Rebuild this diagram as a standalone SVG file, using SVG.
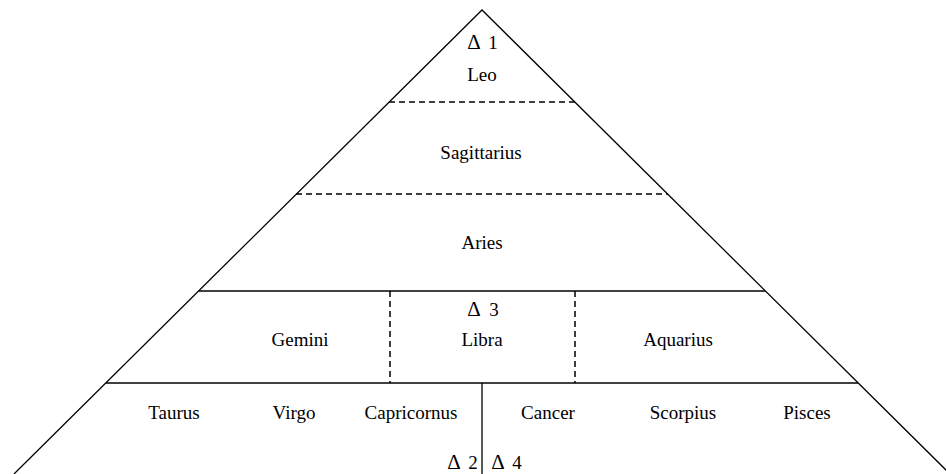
<svg xmlns="http://www.w3.org/2000/svg" width="946" height="474" viewBox="0 0 946 474">
<style>
.ln{stroke:#000;stroke-width:1.3;fill:none}
.ds{stroke:#000;stroke-width:1.5;fill:none;stroke-dasharray:6 4}
text{font-family:"Liberation Serif","Times New Roman",serif;font-size:19px;fill:#000;text-anchor:middle}
.d{font-size:21px}
</style>
<rect width="946" height="474" fill="#fff"/>
<g id="connectors">
<path class="ln" d="M14,474 L482,10 L950,474"/>
<line class="ds" x1="389" y1="102" x2="575" y2="102"/>
<line class="ds" x1="296" y1="194" x2="668" y2="194"/>
<line class="ln" x1="199" y1="291" x2="765" y2="291"/>
<line class="ln" x1="106" y1="383" x2="858" y2="383"/>
<line class="ds" x1="390" y1="291" x2="390" y2="383"/>
<line class="ds" x1="575" y1="291" x2="575" y2="383"/>
<line class="ln" x1="482" y1="383" x2="482" y2="474"/>
</g>
<g id="delta1"><text y="49"><tspan class="d" x="474">Δ</tspan><tspan x="493">1</tspan></text></g>
<g id="leo"><text x="482" y="81">Leo</text></g>
<g id="sagittarius"><text x="481" y="159">Sagittarius</text></g>
<g id="aries"><text x="482" y="249">Aries</text></g>
<g id="delta3"><text y="316"><tspan class="d" x="474">Δ</tspan><tspan x="494">3</tspan></text></g>
<g id="gemini"><text x="300" y="346">Gemini</text></g>
<g id="libra"><text x="482" y="346">Libra</text></g>
<g id="aquarius"><text x="678" y="346">Aquarius</text></g>
<g id="taurus"><text x="174" y="419">Taurus</text></g>
<g id="virgo"><text x="294" y="419">Virgo</text></g>
<g id="capricornus"><text x="411" y="419">Capricornus</text></g>
<g id="cancer"><text x="548" y="419">Cancer</text></g>
<g id="scorpius"><text x="683" y="419">Scorpius</text></g>
<g id="pisces"><text x="807" y="419">Pisces</text></g>
<g id="delta2"><text y="469"><tspan class="d" x="454">Δ</tspan><tspan x="473">2</tspan></text></g>
<g id="delta4"><text y="469"><tspan class="d" x="498">Δ</tspan><tspan x="517">4</tspan></text></g>
</svg>
